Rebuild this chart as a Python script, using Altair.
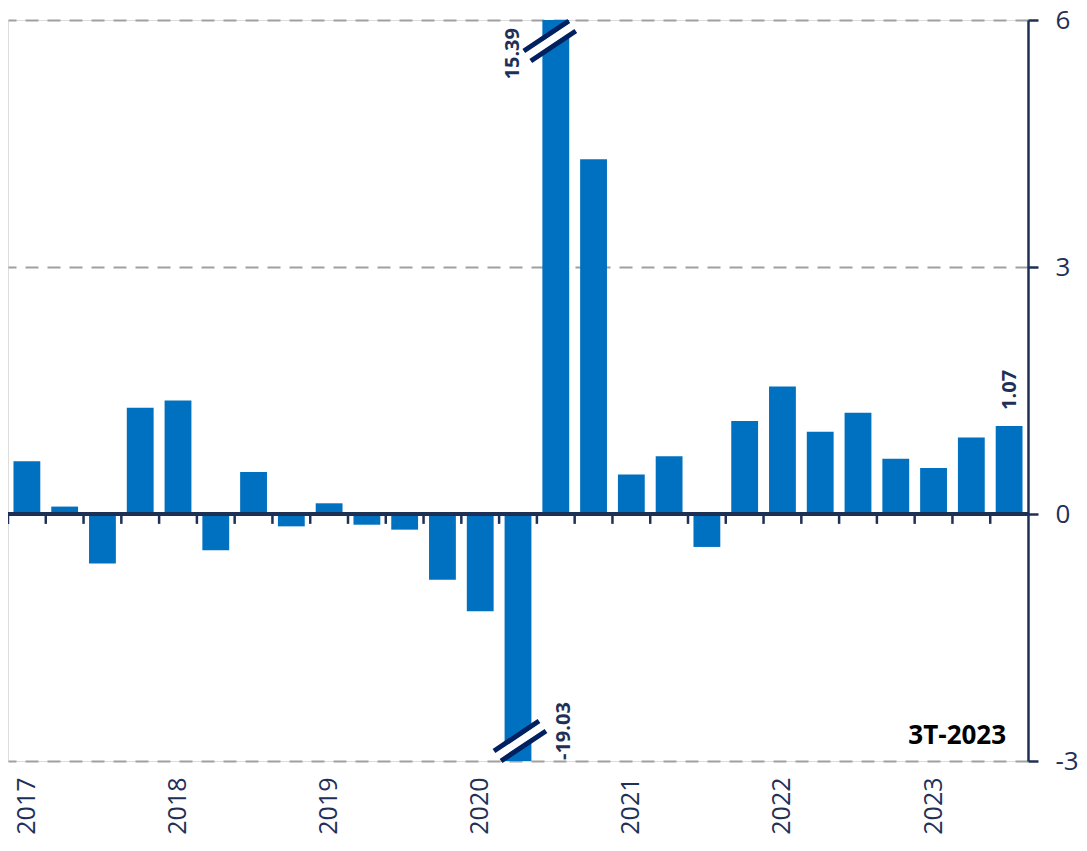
import altair as alt
import pandas as pd

# ---- data ----
years = [2017, 2018, 2019, 2020, 2021, 2022, 2023]
quarters = [f"{y}-T{q}" for y in years for q in (1, 2, 3, 4)][:27]
values = [0.64, 0.09, -0.60, 1.29, 1.38, -0.44, 0.51, -0.15,
          0.13, -0.13, -0.19, -0.80, -1.18, -19.03, 15.39, 4.31,
          0.48, 0.70, -0.40, 1.13, 1.55, 1.00, 1.23, 0.67,
          0.56, 0.93, 1.07]
y_ticks = [-3, 0, 3, 6]
period_label = "3T-2023"

df = pd.DataFrame({"q": quarters, "v": values})

W, H = 1020, 741
step = W / len(quarters)
pad_inner = 0.29
bar_color = "#0070C0"
navy = "#1F3056"
brk = "#002060"
font = "Open Sans"

x_main = alt.X(
    "q:O",
    sort=quarters,
    scale=alt.Scale(domain=quarters, paddingInner=pad_inner, paddingOuter=pad_inner / 2),
    axis=alt.Axis(
        orient="bottom", title=None, ticks=False, domain=False, grid=False,
        labelAngle=270, labelOverlap=False,
        labelExpr="indexof(datum.value, 'T1') >= 0 ? substring(datum.value, 0, 4) : ''",
        labelFont=font, labelFontSize=25, labelColor=navy, labelPadding=16,
    ),
)
y_main = alt.Y(
    "v:Q",
    scale=alt.Scale(domain=[-3, 6], clamp=True, nice=False, zero=False),
    axis=alt.Axis(
        orient="right", title=None, values=y_ticks,
        labelExpr="'' + datum.value",
        grid=True, gridDash=[13, 9], gridColor="#A0A0A0", gridWidth=2,
        domainColor=navy, domainWidth=2.5, tickColor=navy, tickWidth=2.5, tickSize=10,
        labelFont=font, labelFontSize=26, labelColor=navy, labelPadding=17,
    ),
)

base = alt.Chart(df).transform_calculate(lab="'' + datum.v")
bars = base.mark_bar(color=bar_color).encode(x=x_main, y=y_main)

zero_line = base.mark_rule(color=navy, strokeWidth=2.5).encode(y=alt.datum(0))

ticks = base.mark_rule(color=navy, strokeWidth=2.5, xOffset=-step * pad_inner / 2).encode(
    x=alt.X("q:O", bandPosition=0), y=alt.datum(0), y2=alt.datum(-0.12)
)

top_q = quarters[values.index(max(values))]
low_q = quarters[values.index(min(values))]
last_q = quarters[-1]

path_a = "M -1 0.385 L 0.73 -0.77 M -0.73 0.77 L 1 -0.385"
path_w = "M -0.9 0.6 L 0.9 -0.6"

def brk_marks(q, xo, yo):
    sub = base.transform_filter(alt.datum.q == q)
    white = sub.mark_point(shape=path_w, size=2704, stroke="white", strokeWidth=8,
                           fill=None, opacity=1, xOffset=xo, yOffset=yo).encode(
        x=alt.X("q:O"), y=alt.Y("v:Q"))
    navy_l = sub.mark_point(shape=path_a, size=2704, stroke=brk, strokeWidth=5,
                            fill=None, opacity=1, xOffset=xo, yOffset=yo).encode(
        x=alt.X("q:O"), y=alt.Y("v:Q"))
    return [white, navy_l]

lbl_top = base.transform_filter(alt.datum.q == top_q).mark_text(
    angle=270, align="right", baseline="middle", font=font, fontWeight="bold",
    fontSize=20, color=navy, xOffset=-43, yOffset=8,
).encode(x=alt.X("q:O"), y=alt.Y("v:Q"), text=alt.Text("lab:N"))

lbl_low = base.transform_filter(alt.datum.q == low_q).mark_text(
    angle=270, align="left", baseline="middle", font=font, fontWeight="bold",
    fontSize=20, color=navy, xOffset=46, yOffset=-1,
).encode(x=alt.X("q:O"), y=alt.Y("v:Q"), text=alt.Text("lab:N"))

lbl_last = base.transform_filter(alt.datum.q == last_q).mark_text(
    angle=270, align="left", baseline="middle", font=font, fontWeight="bold",
    fontSize=20, color=navy, xOffset=1, yOffset=-16,
).encode(x=alt.X("q:O"), y=alt.Y("v:Q"), text=alt.Text("lab:N"))

period = base.transform_filter(alt.datum.q == last_q).mark_text(
    align="right", baseline="middle", font=font, fontWeight="bold",
    fontSize=26, color="black", xOffset=-3,
).encode(x=alt.X("q:O"), y=alt.datum(-2.7), text=alt.value(period_label))

layers = [bars, zero_line, ticks] + brk_marks(top_q, -6, 21) + brk_marks(low_q, 2, -20) + [
    lbl_top, lbl_low, lbl_last, period]

chart = alt.layer(*layers).properties(
    width=W, height=H,
    autosize=alt.AutoSizeParams(type="none"),
    padding={"left": 0, "top": 12, "right": 51, "bottom": 76},
).configure_view(stroke=None).configure(background="white")

chart.save("out.html", embed_options={"renderer": "svg", "actions": False})
